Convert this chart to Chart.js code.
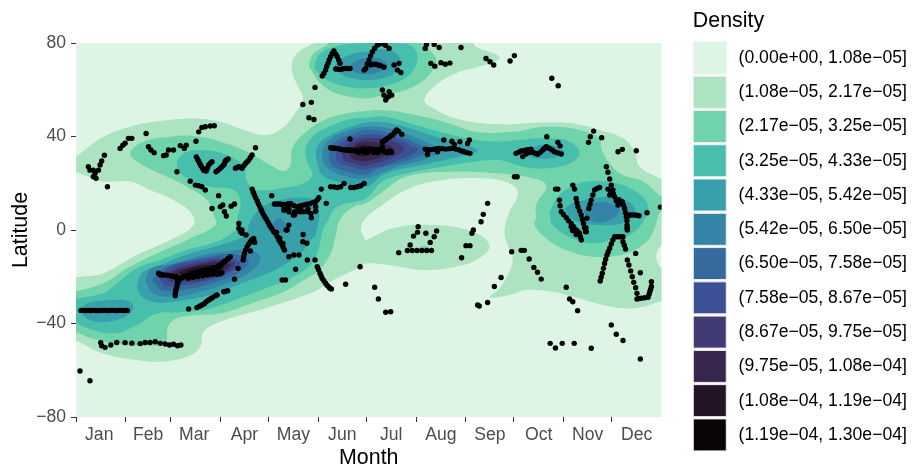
<!DOCTYPE html>
<html lang="en">
<head>
<meta charset="UTF-8">
<title>Density of sightings by month and latitude</title>
<script src="https://cdn.jsdelivr.net/npm/chart.js"></script>
<style>
  html, body { margin: 0; padding: 0; background: #fff; }
  #wrap { position: relative; width: 912px; height: 470px; }
</style>
</head>
<body>
<div id="wrap"><canvas id="myChart"></canvas></div>
<script>
// axis
const monthLabels = ['Jan','Feb','Mar','Apr','May','Jun','Jul','Aug','Sep','Oct','Nov','Dec'];
const monthStarts = [0,31,59,90,120,151,181,212,243,273,304,334];
const monthMiddles = [14.5,45,73.7,105,135.5,166,196.5,227.5,258,288.5,319,349.5];

// legend
const bandLabels = [
  '(0.00e+00, 1.08e−05]','(1.08e−05, 2.17e−05]','(2.17e−05, 3.25e−05]','(3.25e−05, 4.33e−05]',
  '(4.33e−05, 5.42e−05]','(5.42e−05, 6.50e−05]','(6.50e−05, 7.58e−05]','(7.58e−05, 8.67e−05]',
  '(8.67e−05, 9.75e−05]','(9.75e−05, 1.08e−04]','(1.08e−04, 1.19e−04]','(1.19e−04, 1.30e−04]'
];
const bandColors = ['#DEF5E5','#ACE3C0','#6FD3AC','#48BEAD','#37A0AB','#3484A7','#366A9F','#3E5095','#403A75','#38264C','#231526','#0B0405'];

// density contours as [day, latitude]
const band0 = [[-5,-85],[370,-85],[370,85],[-5,85]];
const band1 = [[-5,28.5],[6.7,34.9],[17.1,39.9],[33.7,44.2],[52.5,46.6],[73.3,47.7],[90,46.3],[104.6,42.8],[119.2,40.6],[129.6,44.2],[137.9,51.3],[141.4,56.3],[137.9,62],[134.4,69.1],[136.9,74.8],[146.2,79.1],[154.6,81.3],[245.2,82],[249.3,78.4],[262.9,74.8],[263.9,73.1],[251.4,69.9],[236.8,67],[224.3,62],[217.1,55.6],[221.2,52.7],[236.8,47.7],[263.9,45.2],[288.9,46],[309.7,45.6],[326.4,42.8],[341,39.2],[348.3,33.5],[351.4,27.1],[365,21.8],[370,20],[370,-6.4],[365,-6.4],[361.8,-11.4],[365,-16.4],[370,-16.4],[370,-30],[365,-30.4],[353.5,-32.8],[341,-33.5],[326.4,-31.8],[309.7,-28.5],[297.2,-26.4],[280.6,-25.7],[270.2,-27.8],[257.7,-28.8],[263.9,-25],[269.1,-19.3],[272.3,-12.1],[269.1,-6.4],[267,-0.7],[270.2,7.8],[275.4,15],[272.3,19.2],[253.5,22.1],[222.3,20.7],[203.5,16.4],[191,10.7],[180.6,5],[177.5,0],[179.6,-2.9],[180.6,-4.3],[197.3,0.7],[222.3,2.1],[247.3,-0.7],[257.7,-6.4],[251.4,-12.1],[236.8,-15.7],[216,-17.1],[195.2,-15],[180.6,-14.3],[175.4,-16.4],[158.7,-22.1],[148.3,-26.4],[121.2,-32.8],[90,-39.2],[79.6,-43.5],[77.5,-49.9],[69.2,-54.2],[52.5,-56.3],[37.9,-55.6],[17.1,-52.8],[-0.4,-47.1],[-5,-46],[-5,-22.8],[17.1,-18.5],[37.9,-10.7],[58.8,-4.3],[73.3,2.1],[71.2,7.8],[58.8,13.5],[46.2,17.1],[33.7,20.7],[17.1,20.7],[2.5,24.2],[-5,26]];
const band2Main = [[-5,-27.1],[17.1,-22.8],[31.7,-16.4],[50.4,-10],[71.2,-3.6],[86.9,2.1],[85.8,6.4],[81.7,12.8],[69.2,18.5],[54.6,23.5],[40,28.5],[33.7,32.8],[42.1,37.8],[58.8,39.9],[73.3,40.2],[90,37.8],[106.7,33.5],[121.2,27.8],[129.6,25.2],[133.7,27.8],[134.8,34.9],[142.1,41.3],[154.6,47],[169.1,49.9],[180.6,50.9],[191,51.3],[211.8,49.2],[232.7,45.6],[249.3,42],[272.3,42],[293.1,44.2],[313.9,42.8],[326.4,39.2],[327.4,34.9],[332.7,28.5],[341,23.5],[353.5,20.7],[365,14.2],[370,13],[370,8],[365,8.5],[359.7,-0.7],[355.6,-5],[343.1,-10],[322.2,-11.4],[305.6,-8.6],[293.1,-3.6],[285.8,2.1],[286.8,5],[286.8,10.7],[293.1,19.2],[280.6,22.8],[263.9,24.2],[232.7,24.9],[205.6,22.8],[191,16.4],[180.6,11.4],[173.3,10],[165,5],[161.9,-2.2],[158.7,-10],[151.4,-17.1],[142.1,-21.4],[129.6,-26.4],[110.8,-31],[90,-35.7],[71.2,-36.6],[60.8,-38.5],[57.1,-42.1],[55.6,-48],[44.2,-49.5],[27.5,-48.9],[12.9,-47],[-0.4,-43.5],[-5,-42]];
const band2Polar = [[145.2,69.9],[147.3,74.8],[154.6,78.4],[162.9,81.3],[210.8,81.3],[223.3,74.8],[224.3,71.3],[218.1,64.9],[205.6,59.9],[191,57.7],[180.6,56.3],[162.9,58.4],[152.5,62.7]];
const band2Aug = [[213.9,-7.6],[217,-6.7],[220.2,-7.6],[217,-8.5]];
const band3Main = [[-5,-29.9],[17.1,-27.1],[23.3,-24.2],[37.9,-16.4],[52.5,-12.8],[69.2,-8.6],[90,-4.3],[102.5,2.1],[100.4,3.5],[102.5,12.1],[98.3,17.1],[83.7,18.5],[69.2,22.1],[62.9,27.1],[67.1,32.8],[79.6,34.2],[94.2,32.1],[104.6,27.1],[106.7,20.7],[112.9,17.1],[129.6,18.1],[142.1,20],[147.3,23.5],[144.6,28.5],[143.1,34.2],[147.3,39.9],[157.7,44.2],[171.2,47.5],[180.6,48],[193.1,48.5],[211.8,44.9],[230.6,41.3],[249.3,38.5],[263.9,37.8],[276.4,38.5],[293.1,39.2],[307.7,37.8],[313.9,32.8],[307.7,28.5],[293.1,26.4],[278.5,27.1],[263.9,29.9],[251.4,29.5],[228.5,27.1],[205.6,24.2],[191,20.7],[180.6,13.5],[162.9,10],[156.6,3.5],[153.5,-0.7],[151.4,-7.8],[146.2,-15],[133.7,-20.7],[121.2,-24.2],[104.6,-28.5],[83.7,-33.5],[65,-35.2],[50.4,-35.7],[37.9,-40.6],[23.3,-44.2],[4.6,-41.4],[-0.4,-39.2],[-5,-38]];
const band3Polar = [[148.3,69.1],[151.4,74.8],[160.8,78.4],[175.4,79.8],[201.4,79.8],[209.8,78.4],[212.9,73.4],[207.7,66.3],[195.2,62],[180.6,60.6],[169.1,61.3],[156.6,64.1]];
const band3Nov = [[295.2,7.8],[301.4,15],[313.9,20],[330.6,20.7],[347.2,17.1],[356.6,10.7],[353.5,3.5],[345.2,-2.2],[338.9,-2.9],[324.3,-5.7],[309.7,-3.6],[297.2,2.1]];
const band4Mar = [[37.9,-24.2],[41,-18.5],[52.5,-15],[71.2,-10],[90,-6.4],[105.6,-2.1],[107.7,2.1],[112.9,7.8],[123.3,12.1],[146.2,13.5],[151.4,9.2],[149.4,-2.2],[147.3,-3.6],[141,-9.3],[129.6,-15],[117.1,-19.3],[100.4,-23.5],[83.7,-27.8],[67.1,-30],[50.4,-31],[41,-28.5]];
const band4Jan = [[1.5,-34.2],[8.7,-31],[21.2,-30],[32.7,-30.4],[35.8,-33.5],[30.6,-37.1],[19.2,-39.2],[8.7,-38.5]];
const band4Polar = [[160.8,69.1],[162.9,72],[173.3,75.6],[180.6,76.3],[195.2,77],[202.5,72.7],[199.3,67.7],[191,64.9],[180.6,64.1],[169.1,65.6],[162.9,67.7]];
const band4Jul = [[149.4,34.2],[152.5,37.8],[160.8,41.3],[171.2,44.2],[180.6,46],[193.1,46],[209.8,43.2],[228.5,38.9],[250.4,34.2],[238.9,31.4],[216,27.8],[193.1,24.2],[180.6,18.5],[162.9,20.7],[153.5,23.5],[150.4,28.5]];
const band4Oct = [[282.7,34.2],[291,36.6],[301.4,35.2],[304.5,32.8],[294.1,30.6],[282.7,31.4]];
const band4Nov = [[304.5,9.2],[309.7,11.4],[322.2,13.5],[338.9,13.5],[348.3,9.2],[343.1,3.5],[326.4,2.1],[309.7,4.3]];
const band5Polar = [[170.2,69.9],[175.4,72.7],[180.6,73.4],[188.9,73.4],[194.1,70.6],[188.9,67.7],[180.6,66.6],[173.3,67.7]];
const band5Jul = [[153.5,34.2],[157.7,38.5],[169.1,42.3],[180.6,44.2],[195.2,43.5],[207.7,40.6],[222.3,36.3],[228.5,34.2],[216,29.9],[197.3,26.4],[180.6,22.1],[165,23.5],[154.6,28.5]];
const band5Mar = [[43.1,-21.4],[47.3,-16.4],[58.8,-14.7],[75.4,-11.4],[92.1,-9.3],[108.7,-8.6],[115,-12.1],[108.7,-17.8],[94.2,-22.8],[77.5,-26.4],[60.8,-28.5],[48.3,-27.1]];
const band5Apr = [[122.3,2.1],[126.5,5],[130.6,2.8],[129.6,-0.7],[124.4,-0.7]];
const band5Nov = [[316,7.8],[322.2,11.4],[332.7,11.4],[338.9,8.5],[332.7,4.3],[322.2,3.5]];
const band6Jul = [[157.7,34.2],[162.9,38.5],[173.3,41.3],[180.6,42.8],[197.3,41.3],[211.8,37.1],[219.1,34.2],[207.7,29.9],[188.9,26.4],[180.6,23.8],[168.1,25],[158.7,28.5]];
const band6Mar = [[47.3,-21.4],[52.5,-17.1],[67.1,-13.6],[83.7,-11.4],[98.3,-10.4],[107.7,-12.8],[102.5,-17.8],[87.9,-22.1],[71.2,-25],[54.6,-26]];
const band7Jul = [[161.9,34.2],[166,37.8],[175.4,39.9],[180.6,40.9],[197.3,39.9],[208.7,36.3],[212.9,34.2],[201.4,29.9],[180.6,25.9],[171.2,27.1],[162.9,29.2]];
const band7Mar = [[51.5,-20],[58.8,-15.7],[73.3,-13.3],[90,-11.9],[102.5,-13.6],[98.3,-17.1],[83.7,-21.4],[67.1,-23.5],[55.6,-23.8]];
const band8Jul = [[166,34.2],[170.2,37],[177.5,38.9],[180.6,39.5],[195.2,38.5],[204.6,34.9],[198.3,31.4],[180.6,27.5],[173.3,28.5],[167.1,29.9]];
const band8Mar = [[55.6,-19.3],[62.9,-16.1],[76.5,-14],[90,-12.7],[99.4,-14.3],[94.2,-17.8],[79.6,-21.4],[65,-22.4],[57.7,-22.1]];
const band9Jul = [[170.2,34.2],[175.4,37],[180.6,37.8],[191,37],[198.3,34.6],[192,31.8],[180.6,29.5],[172.3,30.6]];
const band9Mar = [[59.8,-18.5],[67.1,-16.4],[79.6,-14.5],[90,-13.5],[96.2,-15],[91,-17.8],[77.5,-20.4],[66,-21]];
const band10Jul = [[172.3,34.2],[176.4,36],[186.8,35.6],[191,34.2],[185.8,32.3],[175.4,31.8]];
const band10Mar = [[64,-18.3],[72.3,-16.1],[83.7,-15],[92.1,-15.7],[87.9,-17.8],[76.5,-19.7],[68.1,-19.7]];
const band11Mar = [[70.2,-17.8],[79.6,-16.1],[87.9,-16.4],[83.7,-18.1],[74.4,-19]];

// sightings as [day, latitude]
const janDots = [[2.5,-60.3],[8.7,-64.5],[7.7,27.1],[8.7,25.6],[10.8,25.6],[11.9,24.2],[10.8,22.8],[12.5,22.1],[14,25.6],[15,27.8],[16,29.5],[17.7,32],[19.6,18.5],[27.5,34.9],[29.2,36.3],[30.6,37.1],
  [3,-34.4],[4,-34.4],[5,-34.4],[6,-34.5],[7,-34.4],[8,-34.4],[9,-34.5],[10,-34.4],[11,-34.4],[12,-34.4],[13,-34.5],[14,-34.4],[15,-34.5],[16,-34.4],[17,-34.4],[18,-34.4],[19,-34.4],[20,-34.5],[21,-34.4],[22,-34.4],[23,-34.4],[24,-34.4],[25,-34.5],[26,-34.4],[27,-34.4],[28,-34.4],[29,-34.4],[30,-34.5],[31,-34.4],[32,-34.4],
  [15.4,-48.2],[16,-49.5],[18.1,-50.2],[21.7,-49.2],[25.4,-48.1],[30.6,-48.2],[34.8,-48.4],[40,-48.6],[43.1,-48.1],[46.2,-48.1],[49.4,-47.8],[52.5,-48.5],[55.6,-48.8],[58.3,-49.2],[60.8,-48.9],[63.3,-49.5],[65.4,-49.2]];
const febDots = [[32.7,39.2],[34.8,39.2],[43.7,41.3],[45.2,35.6],[46.7,34.2],[48.7,33.1],[54.6,31.8],[56.2,32.1],[57.7,34.2],[60.8,34.2],[65,36.1],[67.5,34.9],[68.7,36.3],[62.9,24.9]];
const marDots = [[74.8,38],[76.5,42],[78.5,43.9],[80.6,44.2],[83.7,44.5],[86.2,44.6],[71.2,20.9],[74.4,19.2],[76.5,18.9],[78.5,18.5],[80.6,17.1],[88.9,14.7],[84.8,9.2],[90,10],[91.5,10.7],[96.7,10.2],[98.8,11.1],[92.5,7.8],[93.7,6],
  [75,31.3],[76.4,29.5],[77.9,27.5],[79.6,25.6],[81.2,25.2],[82.7,27.8],[84.8,29.2],[87.3,24.9],[90,26.4],[92.1,27.8],[93.1,29.5],[94.8,30.4],
  [51.5,-18.5],[52.5,-19.3],[55.6,-19.3],[58.8,-19.5],[61.9,-20],[64,-21],[67.1,-20],[70.2,-19.3],[73.3,-19],[76.5,-18.5],[79.6,-17.8],[82.7,-17.1],[85.8,-16.1],[88.9,-15.3],[92.1,-13.8],[94.6,-12.4],[96.2,-11.4],[69.2,-20],[75.4,-19.3],[81.7,-18.8],[87.9,-18.5],[91,-18.3],
  [64,-21.4],[63.3,-22.8],[62.5,-25],[61.9,-27.1],[61.9,-28.1],[70.2,-33.8],[75.4,-33.2],[78.5,-32.1],[81.2,-30.7],[83.7,-29.5],[86.9,-28.1],[92.1,-26.4],[94.6,-26],[98.8,-21.1]];
const marTrack = [[66,-20.4],[68,-19.8],[69,-19.9],[71,-19.2],[72,-19.4],[74,-18.8],[75,-18.7],[77,-18.6],[78,-18.2],[80,-18],[81,-17.5],[83,-17.4],[84,-16.8],[86,-16.7],[87,-16],[89,-16.3],[90,-15],[91,-14.5],[93,-13.2],[95,-12.2],[70,-20.6],[73,-20.2],[76,-19.9],[79,-19.6],[82,-19.3],[85,-19],[88,-18.9],[90,-18.7],[53.5,-19],[54.5,-19.4],[57,-19.3],[60,-19.8],[62.5,-20],[63,-20.8],[65,-20.8],[63.8,-22],[63,-24],[62.2,-26],[77,-32.6],[80,-31.5],[82.5,-30],[85,-29],[88,-27.8],[93,-26.3],[75.7,30.4],[77.2,28.5],[78.8,26.5],[80.4,25.4],[82,26.5],[83.7,28.6],[88.6,25.6],[91,27.1],[92.6,28.6],[93.9,30]];
const aprDots = [[99.4,26.4],[101.5,27.1],[103.5,26.4],[105.6,28.5],[107.7,29.9],[109.8,32.1],[111.9,35.2],[109.8,17.5],[111.2,15],[112.9,12.5],[114.6,10],[116,7.8],[117.7,5.7],[119.6,3.5],[121.2,1.4],[122,14.7],[101,-16.4],
  [101.5,2.8],[103.5,0],[103.5,-1.4],[101.5,0.7],[102.5,-0.7],[106,-2.1],[110.8,-3.6],[108.7,-5],[106.7,-7.1],[105,-10],[104.2,-12.8],[108.7,-9],[111.4,-5.3]];
const aprTrack = [[100.4,26.8],[102.5,26.8],[104.6,27.5],[106.7,29.2],[108.7,31],[110.5,16.2],[112,13.8],[113.7,11.2],[115.3,8.9],[116.8,6.7],[118.6,4.6],[120.4,2.4],[122.2,0.4],[123.8,-1],[125.4,-2.8],[127.5,-5.3],[129.2,-7.5],[125,-1],[127,-3.5],[129,-5.8],[109.5,-4.3],[107.7,-6],[105.8,-8.5],[104.6,-11.4]];
const mayDots = [[123.3,-0.7],[124.4,-1.4],[126.5,-4.3],[128.5,-6.4],[130,-8.6],[123.7,11.1],[126.5,11.1],[129.6,10.7],[131.7,11],[133.8,11.4],[137.9,10],[142,10.7],[146.2,11.4],[149.4,12.1],[151.4,13.8],[129.6,8.5],[132.7,7.8],[135.4,6.4],[136.2,6.4],[137.9,7.8],[140,9.2],[142,7.8],[144.6,9.2],[146.7,5.2],[149.4,10],
  [132.7,2.1],[131.7,0],[131,0],[141.6,-1.9],[141.4,-5],[143.9,-5.7],[132.7,-11.4],[135.8,-10.7],[139,-10.7],[136.9,-16.8],[144.2,-12.8],[149,-12.8],[128.5,-21.4],[130.6,-21.4],[150.4,-15.7],[141.4,53.7],[146.7,54.6],[145.2,48],[148.3,47.3],[149,61]];
const mayTrack = [[125,11.1],[128,11],[130.6,10.8],[132.7,11.2],[135.8,10.5],[139.9,10.4],[144,11],[147.8,11.8],[150.4,12.9],[129.6,9.6],[132.7,9.2],[136.2,7.8],[140,7.8],[144.6,7.8],[146.5,7],[149.4,8],[151.2,-17],[152.8,-19.6],[154.5,-21.7],[156.6,-23.7],[158.5,-25]];
const junDots = [[152.9,17.5],[156,11.4],[158.7,18.5],[161,18.4],[163,18.2],[165,18.5],[167.1,19.9],[171.2,18.2],[173.3,18.2],[175.4,18.5],[177.5,18.9],[179.6,19.9],[152.1,-18.5],[153.5,-20.7],[155.6,-22.8],[157.7,-24.5],[159.2,-25.2],[168.1,-23.2],[177.1,-15.7],
  [153.5,65.9],[155.6,68.4],[157.1,71.3],[158.7,74.1],[160.8,76.6],[162.9,74.1],[164.6,71.3],[161.9,68.9],[165,68.7],[168.1,69.1],[170.8,69.1],[179.6,68.4],
  [158.7,35.2],[160.7,35],[162.9,34.9],[165,34.5],[167.1,34.2],[169.2,34.2],[171.2,34.2],[173.3,34],[175.4,33.5],[177.5,34],[179.6,34.5],[170.8,38.9]];
const junTrack = [[154.5,67],[156.3,70],[157.8,72.7],[159.7,75.5],[162,75.2],[163.8,72.7],[163.5,68.8],[166.5,69],[169.5,69.1],[159.7,35.1],[161.8,35],[164,34.7],[166,34.4],[168,34.3],[170,34],[172,34],[174,34],[176,33.5],[178,34.2],[180,33.3]];
const julDots = [[180.6,69.1],[182.7,72.7],[184.8,76.3],[187.9,79.1],[191,79.8],[195.2,77.7],[183.7,70.6],[186.8,70.9],[190,70.3],[192,69.6],[198.3,70.6],[200.4,68.4],[202.5,67.4],[201.4,71.3],[191,59.9],[192,57.7],[193.1,55.6],[194.8,57],[196.8,57.7],[195.2,59.2],
  [180.6,34.2],[182.7,34.2],[184.8,34.2],[186.9,34.1],[189,34.2],[191,33.9],[193.1,33.5],[195,33.4],[196.8,33.2],[191,37.8],[194.1,39.2],[197.3,40.6],[199.8,42.8],[203.1,41],[191,35.6],[186.2,-24.5],[188.5,-29.5],[193.1,-35.2],[196.2,-35],[201.2,-9.7]];
const julTrack = [[181.5,33.5],[183.5,34.6],[185.5,33.8],[187.5,34.5],[188,33.2],[190,34.4],[192,33.6],[194,33],[195.6,33.8],[186,33.2],[192.3,38.2],[193,38.6],[195.5,39.8],[196.5,40.4],[198.5,41.6],[199,42],[201,42.3],[181.6,71],[183.7,74.5],[186.2,77.8],[189.5,79.7],[193,79],[185.2,70.9],[188.4,70.6]];
const augDots = [[217.7,77.7],[218.5,79.4],[223.3,79.4],[226.4,78.1],[240,78.1],[221.2,71.3],[223.7,70.1],[227.5,71.6],[230.2,70.9],[233.1,71.4],
  [217.7,34.6],[220.2,34.2],[223.3,34.6],[226.4,34.9],[230.6,34.6],[234.8,34.9],[238.9,34.2],[219.1,32.3],[225.4,33.5],[229.3,38.5],[234.3,38],[235.8,36.6],[239.3,37.8],
  [219,34.4],[221.7,34.4],[225,34.8],[228.5,34.8],[232.7,34.8],[236.8,34.6],[240.5,33.8],
  [206.6,-8.8],[209.6,-8.8],[212.6,-8.8],[215.6,-8.8],[218.6,-8.8],[221.6,-8.8],[208.3,-6.4],[210.4,-2.6],[212.9,-1],[213.3,1.4],[218.1,-1.4],[220.8,-5.3],[223.3,-2.9],[224.8,-0.4],[240.4,-11.9]];
const sepDots = [[255.6,73.4],[258.1,72],[260.4,70.6],[270.6,72.3],[242,33.5],[243.8,33.1],[245.6,32.8],[245.2,38.5],[244.1,37],[243.1,-6.7],[245.6,-6.7],[246.8,-1.4],[247.7,0],[252.5,3.5],[253.9,6.7],[256.6,11.4],[265,-20.3],[260.8,-24.2],[256.6,-31],[250.4,-32.1],[251.4,-32.5],[271.6,-9.3]];
const octDots = [[273.3,74.6],[296.6,64.9],[300.6,61.7],[274.3,32.8],[277.5,33.8],[280.6,34.2],[283.7,34.6],[278.5,31.4],[282.7,33.2],[287.9,32.4],[291,34.2],[293.1,35.6],[295.2,34.9],[298.3,33.5],[302.5,32.5],[293.5,39.9],[300.4,37.5],[301.8,36],[273.3,22.8],[275,22.8],[298.9,17.5],[300.4,17.5],[301.4,12.8],[301.8,10.4],[302.5,7.8],
  [276,33.3],[279,33.9],[282,34.4],[280.6,32.5],[285,33.2],[286.5,32.7],[289.5,33.3],[292,34.9],[294,35.3],[296.8,34.2],[300.4,33],
  [277.5,-8.7],[279.5,-8.7],[282.5,-12.4],[285.4,-16],[287.7,-18.1],[290,-21],[295.6,-48.5],[298.9,-50.5],[303.1,-48.5]];
const novDots = [[322.7,42.3],[320.6,39.9],[319.5,37.5],[327.7,39.5],[309.7,19.2],[310.8,17.5],[305.6,5.3],[308.7,2.8],[311.8,0],[313.9,-1.4],[315,-4.3],[311.8,-1.9],[308.7,1.4],[311.8,13.5],[312.9,10],[314.9,6.4],[316.4,2.8],[317.7,-0.7],[318.1,-0.7],[318.5,5],[319.7,9.2],[321.2,12.8],[323.3,17.1],[326.4,18.2],
  [330.6,27.1],[331.6,24.7],[332.7,21.8],[333.7,19.2],[332.7,15],[331.6,17.5],[326.8,-21.8],[328.1,-18.5],[329.5,-14.3],[331,-10.7],[332.7,-7.8],[305.6,-24.5],[307.7,-29.5],[309.7,-30.7],[312.7,-34.5],[310.6,-48.5],[321.2,-50.6]];
const novTrack = [[303.9,6.6],[307,4],[310.2,1.4],[312.9,-0.7],[314.5,-3],[311,-0.3],[309.5,-0.2],[312.3,11.7],[313.9,8.2],[315.7,4.6],[317,1],[320.4,11],[322.2,15],[324.8,17.8],[317.9,1],[333.7,-6],[331.8,-9.3],[330.2,-12.5],[328.8,-16.4],[327.4,-20.2]];
const decDots = [[337.9,33.5],[340.6,34.5],[349.3,33.9],[335.8,14.2],[334.7,17.1],[337.9,10.7],[340.6,12.1],[342,9.2],[343.1,5.7],[345.2,6.4],[348.3,6.4],[351,6.1],[356,7.4],[364.3,9.8],[343.5,2.1],[343.7,0],[343.7,0.7],
  [335.8,-2.9],[338.4,-2.9],[341,-2.9],[334.7,-4.3],[341,-5],[342.6,-8.1],[343.7,-12.8],[344.7,-15],[345.8,-17.5],[346.8,-20],[347.7,-22.4],[348.9,-24.7],[349.7,-27.1],[349.7,-29.5],[352.4,-29.2],[356.6,-28.8],[357.7,-26.4],[358.7,-24.2],[358.7,-22.1],[348.9,-10],[351.8,-18.3],[333.7,-40.6],[336.8,-44.6],[341,-47.3],[351.8,-55.2]];
const decTrack = [[333.5,16.5],[336.8,12.5],[339,11.4],[341.3,10.6],[342.5,7.5],[344,6],[346.7,6.4],[349.6,6.3],[335,15.5],[338.5,13],[343.5,4],[343.6,1],[337,-2.9],[339.7,-2.9],[341.8,-6.5],[350.9,-29.3],[354.5,-29],[357.2,-27.6],[358.2,-25.3]];

const bandShapes = [
  [0,band0],[1,band1],[2,band2Main],[2,band2Polar],[2,band2Aug],
  [3,band3Main],[3,band3Polar],[3,band3Nov],
  [4,band4Mar],[4,band4Jan],[4,band4Polar],[4,band4Jul],[4,band4Oct],[4,band4Nov],
  [5,band5Polar],[5,band5Jul],[5,band5Mar],[5,band5Apr],[5,band5Nov],
  [6,band6Jul],[6,band6Mar],[7,band7Jul],[7,band7Mar],[8,band8Jul],[8,band8Mar],
  [9,band9Jul],[9,band9Mar],[10,band10Jul],[10,band10Mar],[11,band11Mar]
];
const allDots = [].concat(janDots,febDots,marDots,marTrack,aprDots,aprTrack,mayDots,mayTrack,junDots,junTrack,julDots,julTrack,augDots,sepDots,octDots,novDots,novTrack,decDots,decTrack);

const toXY = p => ({x: p[0], y: p[1]});
const datasets = bandShapes.map(([band, shape], i) => ({
  label: bandLabels[band],
  data: shape.concat([shape[0]]).map(toXY),
  showLine: true,
  fill: 'shape',
  backgroundColor: bandColors[band],
  borderWidth: 0,
  pointRadius: 0,
  tension: band === 0 ? 0 : 0.4,
  order: 1000 - i
}));
datasets.push({
  label: 'Sightings',
  data: allDots.map(toXY),
  showLine: false,
  backgroundColor: '#000',
  borderWidth: 0,
  pointRadius: 2.7,
  order: 0
});

const fontFamily = '"Liberation Sans", Helvetica, Arial, sans-serif';

// legend keeps its own column, away from the plot
const placeLegend = {
  id: 'placeLegend',
  afterLayout(chart) {
    const lg = chart.legend;
    const w = lg.width;
    lg.left = 691;
    lg.right = 691 + w;
    lg.top = 0;
    lg.bottom = lg.height;
    lg.adjustHitBoxes();
  }
};

new Chart(document.getElementById('myChart'), {
  type: 'scatter',
  data: { datasets },
  plugins: [placeLegend],
  options: {
    responsive: true,
    maintainAspectRatio: false,
    animation: false,
    events: [],
    elements: { line: { capBezierPoints: false } },
    layout: { padding: { right: 30 } },
    plugins: {
      tooltip: { enabled: false },
      title: { display: true, text: '', font: { size: 10, lineHeight: 1 }, padding: { top: 33, bottom: 0 } },
      legend: {
        position: 'right',
        align: 'start',
        title: {
          display: true,
          text: '\u200ADensity',
          position: 'start',
          color: '#000',
          font: { family: fontFamily, size: 21.4 },
          padding: { top: 10, bottom: 4 }
        },
        labels: {
          boxWidth: 33,
          boxHeight: 32,
          padding: 2.27,
          color: '#000',
          font: { family: fontFamily, size: 17.6 },
          generateLabels: () => bandLabels.map((text, i) => ({
            text: '\u2009' + text,
            fillStyle: bandColors[i],
            strokeStyle: '#EEEEEE',
            lineWidth: 1,
            hidden: false,
            datasetIndex: 0
          }))
        }
      }
    },
    scales: {
      x: {
        type: 'linear',
        min: 0,
        max: 365,
        afterBuildTicks: axis => {
          axis.ticks = monthStarts.concat(monthMiddles).sort((a, b) => a - b).map(value => ({value}));
        },
        afterFit: axis => { axis.height = 53; },
        border: { display: false },
        grid: {
          drawOnChartArea: false,
          tickLength: 5,
          tickWidth: 1,
          tickColor: c => monthStarts.includes(c.tick.value) ? '#333333' : 'rgba(0,0,0,0)'
        },
        ticks: {
          autoSkip: false,
          maxRotation: 0,
          minRotation: 0,
          padding: 3,
          color: '#4D4D4D',
          font: { family: fontFamily, size: 17.6 },
          callback: value => {
            const i = monthMiddles.indexOf(value);
            return i >= 0 ? monthLabels[i] : '';
          }
        },
        title: {
          display: true,
          text: 'Month',
          color: '#000',
          font: { family: fontFamily, size: 21.4 },
          padding: { top: 0, bottom: -1 }
        }
      },
      y: {
        min: -80,
        max: 80,
        afterFit: axis => { axis.width = 76; },
        border: { display: false },
        grid: { drawOnChartArea: false, tickLength: 5, tickWidth: 1, tickColor: '#333333' },
        ticks: {
          stepSize: 40,
          padding: 5,
          color: '#4D4D4D',
          font: { family: fontFamily, size: 17.6 },
          callback: value => String(value).replace('-', '−')
        },
        title: {
          display: true,
          text: 'Latitude',
          color: '#000',
          font: { family: fontFamily, size: 21.4 },
          padding: { top: 8, bottom: 0 }
        }
      }
    }
  }
});
</script>
</body>
</html>
